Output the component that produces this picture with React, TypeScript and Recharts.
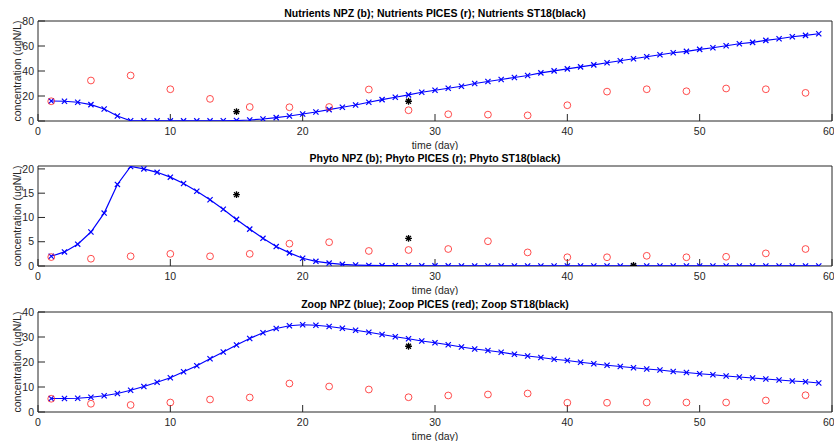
import React from 'react';
import { ComposedChart, Scatter, XAxis, YAxis, Label } from 'recharts';

// model output, one value per day
const modelDays = [
  1, 2, 3, 4, 5, 6, 7, 8, 9, 10, 11, 12, 13, 14, 15, 16, 17, 18, 19, 20,
  21, 22, 23, 24, 25, 26, 27, 28, 29, 30, 31, 32, 33, 34, 35, 36, 37, 38, 39, 40,
  41, 42, 43, 44, 45, 46, 47, 48, 49, 50, 51, 52, 53, 54, 55, 56, 57, 58, 59,
];
const nutrientsNpz = [
  16.0, 15.8, 15.0, 13.1, 9.6, 4.0, 0.2, 0.1, 0.1, 0.1, 0.1, 0.1, 0.1, 0.2, 0.4, 0.8, 1.6, 2.7, 4.0, 5.6,
  7.2, 9.1, 11.0, 12.8, 15.0, 17.1, 19.0, 20.9, 23.0, 24.6, 26.2, 27.8, 30.0, 31.6, 33.2, 34.8, 36.4, 38.5, 40.1, 41.7,
  43.3, 44.9, 46.6, 48.2, 49.8, 51.4, 53.0, 54.6, 55.7, 57.3, 58.6, 60.2, 61.8, 62.9, 64.5, 65.8, 67.4, 68.5, 69.8,
];
const phytoNpz = [
  2.0, 2.9, 4.5, 7.0, 10.9, 16.8, 20.5, 20.0, 19.3, 18.3, 17.0, 15.4, 13.65, 11.7, 9.6, 7.6, 5.7, 4.0, 2.7, 1.6,
  0.96, 0.6, 0.34, 0.2, 0.12, 0.08, 0.06, 0.05, 0.04, 0.03, 0.03, 0.02, 0.02, 0.02, 0.01, 0.01, 0.01, 0.01, 0.01, 0.01,
  0.01, 0.01, 0.01, 0.01, 0.01, 0.01, 0.01, 0.01, 0.01, 0.01, 0.01, 0.01, 0.01, 0.01, 0.01, 0.01, 0.01, 0.01, 0.01,
];
const zoopNpz = [
  5.4, 5.4, 5.5, 5.9, 6.5, 7.4, 8.7, 10.2, 11.9, 13.7, 16.1, 18.5, 21.3, 24.0, 26.8, 29.4, 31.7, 33.4, 34.5, 34.9,
  34.7, 34.2, 33.5, 32.7, 31.9, 31.0, 30.1, 29.3, 28.4, 27.7, 26.9, 26.0, 25.2, 24.6, 23.9, 23.1, 22.4, 21.8, 21.1, 20.6,
  19.9, 19.3, 18.7, 18.2, 17.7, 17.2, 16.8, 16.2, 15.8, 15.3, 14.9, 14.4, 14.0, 13.6, 13.2, 12.8, 12.4, 12.1, 11.6,
];

// PICES observations, every third day
const picesDays = [1, 4, 7, 10, 13, 16, 19, 22, 25, 28, 31, 34, 37, 40, 43, 46, 49, 52, 55, 58];
const nutrientsPices = [15.8, 32.4, 36.4, 25.4, 17.7, 11.2, 11.0, 11.2, 25.2, 8.6, 5.4, 5.1, 4.5, 12.6, 23.5, 25.4, 23.8, 26.0, 25.4, 22.5];
const phytoPices = [1.84, 1.5, 2.0, 2.5, 2.0, 2.5, 4.6, 4.9, 3.1, 3.3, 3.5, 5.1, 2.8, 1.8, 1.8, 2.1, 1.8, 1.9, 2.6, 3.5];
const zoopPices = [5.3, 3.3, 2.8, 3.8, 5.0, 5.8, 11.4, 10.2, 9.0, 5.9, 6.6, 7.0, 7.4, 3.7, 3.7, 3.8, 3.8, 3.8, 4.6, 6.7];

// ST18 samples
const nutrientsSt18Days = [15, 28];
const nutrientsSt18 = [7.5, 15.8];
const phytoSt18Days = [15, 28, 45];
const phytoSt18 = [14.7, 5.7, 0.1];
const zoopSt18Days = [28];
const zoopSt18 = [26.3];

const dayTicks = [0, 10, 20, 30, 40, 50, 60];
const nutrientsTicks = [0, 20, 40, 60, 80];
const phytoTicks = [0, 5, 10, 15, 20];
const zoopTicks = [0, 10, 20, 30, 40];

const nutrientsTitle = 'Nutrients NPZ (b); Nutrients PICES (r); Nutrients ST18(black)';
const phytoTitle = 'Phyto NPZ (b); Phyto PICES (r); Phyto ST18(black)';
const zoopTitle = 'Zoop NPZ (blue); Zoop PICES (red); Zoop ST18(black)';

const W = 834;
const H = 150;
const AXIS = '#262626';
const FONT = '"Liberation Sans", Arial, Helvetica, sans-serif';
const FS = 10.5;

const zip = (xs: number[], ys: number[]) => xs.map((day, i) => ({ day, v: ys[i] }));

const CrossMark = ({ cx, cy }: any) => (
    <path
        d={`M${cx - 2.6},${cy - 2.6}L${cx + 2.6},${cy + 2.6}M${cx - 2.6},${cy + 2.6}L${cx + 2.6},${cy - 2.6}`}
        stroke="#0000ff"
        strokeWidth={1.2}
        fill="none"
    />
);

const RingMark = ({ cx, cy }: any) => (
    <circle cx={cx} cy={cy} r={3.4} stroke="#ff2020" strokeWidth={0.8} fill="none" />
);

const StarMark = ({ cx, cy }: any) => {
    const r = 3.4;
    const d = r * 0.72;
    return (
        <path
            d={`M${cx - r},${cy}L${cx + r},${cy}M${cx},${cy - r}L${cx},${cy + r}M${cx - d},${cy - d}L${cx + d},${cy + d}M${cx - d},${cy + d}L${cx + d},${cy - d}`}
            stroke="#000"
            strokeWidth={1.3}
            fill="none"
        />
    );
};

const YTitle = ({ viewBox }: any) => {
    const x = viewBox.x + 17;
    const y = viewBox.y + viewBox.height / 2;
    return (
        <text x={x} y={y} transform={`rotate(-90 ${x} ${y})`} textAnchor="middle" dominantBaseline="central"
            fontFamily={FONT} fontSize={FS} fill={AXIS}>
            concentration (ugN/L)
        </text>
    );
};

const XTitle = ({ viewBox }: any) => (
    <text x={viewBox.x + viewBox.width / 2} y={viewBox.y + 28} textAnchor="middle"
        fontFamily={FONT} fontSize={FS} fill={AXIS}>
        time (day)
    </text>
);

interface PanelProps {
    top: number;
    title: string;
    yMax: number;
    yTicks: number[];
    model: number[];
    pices: number[];
    st18Days: number[];
    st18: number[];
}

function Panel({ top, title, yMax, yTicks, model, pices, st18Days, st18 }: PanelProps) {
    const tickStyle = { fill: AXIS, fontSize: FS, fontFamily: FONT };
    return (
        <div style={{ position: 'absolute', left: 0, top, width: W, height: H }}>
            <ComposedChart width={W} height={H} margin={{ top: 21, right: 2, bottom: 0, left: 0 }}>
                <XAxis
                    dataKey="day"
                    type="number"
                    domain={[0, 60]}
                    ticks={dayTicks}
                    height={29}
                    tickSize={-7}
                    tickMargin={14}
                    axisLine={{ stroke: AXIS }}
                    tickLine={{ stroke: AXIS }}
                    tick={tickStyle}
                    label={<Label content={<XTitle />} />}
                />
                <XAxis
                    xAxisId="top"
                    orientation="top"
                    mirror
                    dataKey="day"
                    type="number"
                    domain={[0, 60]}
                    ticks={dayTicks}
                    tickSize={7}
                    tick={false}
                    axisLine={{ stroke: AXIS }}
                    tickLine={{ stroke: AXIS }}
                />
                <YAxis
                    dataKey="v"
                    type="number"
                    domain={[0, yMax]}
                    ticks={yTicks}
                    width={38}
                    tickSize={-7}
                    tickMargin={11}
                    allowDataOverflow
                    axisLine={{ stroke: AXIS }}
                    tickLine={{ stroke: AXIS }}
                    tick={tickStyle}
                    label={<Label content={<YTitle />} />}
                />
                <YAxis
                    yAxisId="right"
                    orientation="right"
                    mirror
                    type="number"
                    domain={[0, yMax]}
                    ticks={yTicks}
                    allowDataOverflow
                    tickSize={7}
                    tick={false}
                    axisLine={{ stroke: AXIS }}
                    tickLine={{ stroke: AXIS }}
                />
                <Scatter
                    data={zip(modelDays, model)}
                    dataKey="v"
                    line={{ stroke: '#0000ff', strokeWidth: 1.2 }}
                    lineType="joint"
                    shape={<CrossMark />}
                    isAnimationActive={false}
                />
                <Scatter data={zip(picesDays, pices)} dataKey="v" shape={<RingMark />} isAnimationActive={false} />
                <Scatter data={zip(st18Days, st18)} dataKey="v" shape={<StarMark />} isAnimationActive={false} />
            </ComposedChart>
            <div
                style={{
                    position: 'absolute', left: 38, top: 8, width: W - 40, textAlign: 'center',
                    fontFamily: FONT, fontSize: FS, fontWeight: 'bold', lineHeight: '10px', color: '#000',
                    whiteSpace: 'nowrap',
                }}
            >
                {title}
            </div>
        </div>
    );
}

export default function App() {
    return (
        <div style={{ position: 'relative', width: W, height: 443, background: '#fff', overflow: 'hidden' }}>
            <style>{'body { margin: 0; }'}</style>
            <Panel top={0} title={nutrientsTitle} yMax={80} yTicks={nutrientsTicks}
                model={nutrientsNpz} pices={nutrientsPices} st18Days={nutrientsSt18Days} st18={nutrientsSt18} />
            <Panel top={145} title={phytoTitle} yMax={20.6} yTicks={phytoTicks}
                model={phytoNpz} pices={phytoPices} st18Days={phytoSt18Days} st18={phytoSt18} />
            <Panel top={291} title={zoopTitle} yMax={40} yTicks={zoopTicks}
                model={zoopNpz} pices={zoopPices} st18Days={zoopSt18Days} st18={zoopSt18} />
        </div>
    );
}
